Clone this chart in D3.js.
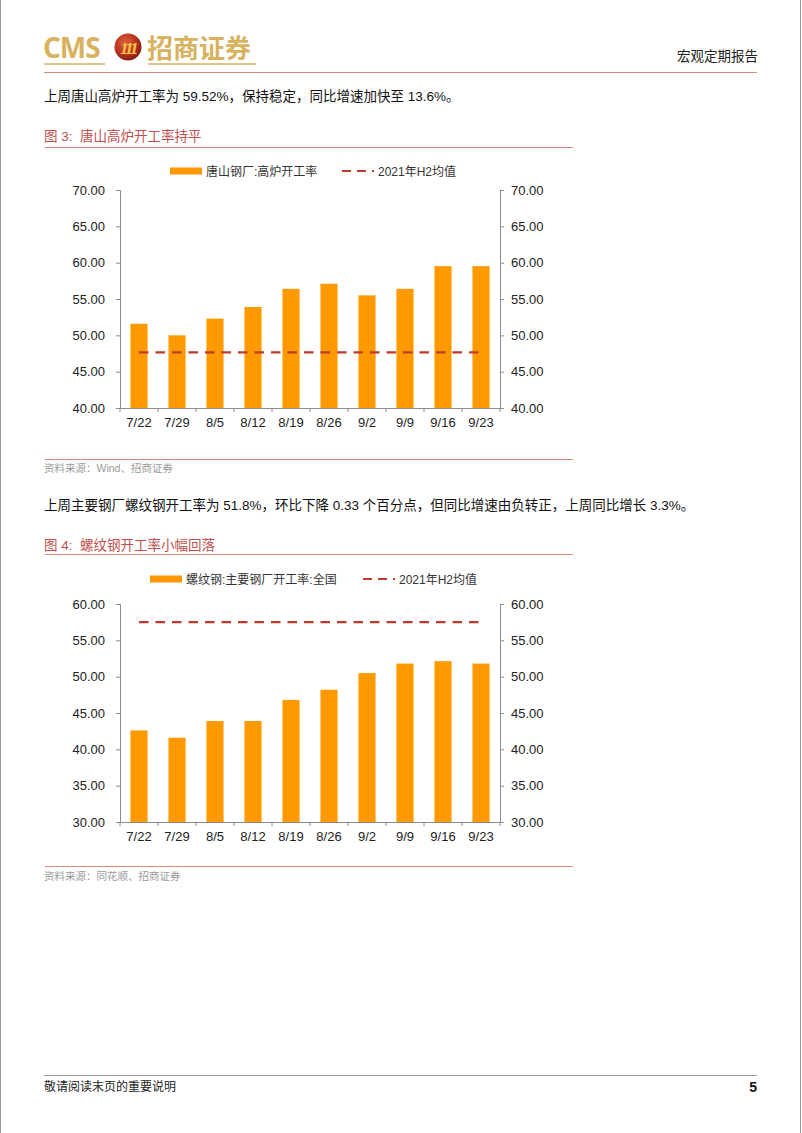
<!DOCTYPE html>
<html>
<head>
<meta charset="utf-8">
<script src="https://cdn.jsdelivr.net/npm/d3@7"></script>
<style>
  html, body { margin: 0; padding: 0; background: #fff; }
  svg { display: block; }
</style>
</head>
<body>
<svg id="page" width="802" height="1133"></svg>
<script>
// ---------- DATA ----------
const categories = ["7/22","7/29","8/5","8/12","8/19","8/26","9/2","9/9","9/16","9/23"];
const tangshanRate = [51.6, 50.0, 52.3, 53.9, 56.4, 57.1, 55.5, 56.4, 59.52, 59.52];
const tangshanAvg2021H2 = 47.65;
const tangshanTicks = [40, 45, 50, 55, 60, 65, 70];
const rebarRate = [42.6, 41.6, 43.9, 43.9, 46.8, 48.2, 50.5, 51.8, 52.13, 51.8];
const rebarAvg2021H2 = 57.5;
const rebarTicks = [30, 35, 40, 45, 50, 55, 60];

// ---------- STYLE ----------
const FONT = "'Liberation Sans', Arial, 'Noto Sans CJK SC', sans-serif";
const CJK = "'Liberation Sans', 'Noto Sans CJK SC', sans-serif";
const ORANGE = "#FF9900";
const DASHRED = "#C0392B";
const TITLE = "#C0504D";
const RULE = "#D98A7A";
const GOLD = "#D8B25E";
const AXIS = "#8C8C8C";

const svg = d3.select("#page");

// page borders
svg.append("line").attr("x1",0.5).attr("x2",0.5).attr("y1",0).attr("y2",1133).attr("stroke","#999").attr("stroke-width",1);
svg.append("line").attr("x1",800.5).attr("x2",800.5).attr("y1",0).attr("y2",1133).attr("stroke","#999").attr("stroke-width",1);

// ---------- HEADER ----------
svg.append("text").attr("x",43).attr("y",58).text("CMS")
  .attr("font-family","'Open Sans', 'Liberation Sans', sans-serif").attr("font-weight","bold")
  .attr("font-size",28).attr("fill",GOLD).attr("letter-spacing",-1);
const defs = svg.append("defs");
const grad = defs.append("radialGradient").attr("id","emb").attr("cx","40%").attr("cy","35%").attr("r","70%");
grad.append("stop").attr("offset","0%").attr("stop-color","#E0603A");
grad.append("stop").attr("offset","60%").attr("stop-color","#B8321E");
grad.append("stop").attr("offset","100%").attr("stop-color","#7A1A10");
svg.append("circle").attr("cx",128).attr("cy",47).attr("r",13.5).attr("fill","url(#emb)");
svg.append("text").attr("x",128).attr("y",53.5).attr("text-anchor","middle").text("111")
  .attr("font-family","'Liberation Serif', serif").attr("font-style","italic").attr("font-weight","bold")
  .attr("font-size",17).attr("fill","#F6C443").attr("letter-spacing",-2.5);
svg.append("text").attr("x",147).attr("y",58).text("招商证券")
  .attr("font-family","'Noto Sans CJK SC', sans-serif").attr("font-weight","bold")
  .attr("font-size",26).attr("fill",GOLD);
svg.append("line").attr("x1",44).attr("x2",105).attr("y1",64).attr("y2",64).attr("stroke",GOLD).attr("stroke-width",1.5);
svg.append("line").attr("x1",148).attr("x2",256).attr("y1",64).attr("y2",64).attr("stroke",GOLD).attr("stroke-width",1.5);

svg.append("text").attr("x",758).attr("y",61).attr("text-anchor","end").text("宏观定期报告")
  .attr("font-family",CJK).attr("font-size",13.5).attr("fill","#222");
svg.append("line").attr("x1",44).attr("x2",757).attr("y1",72.5).attr("y2",72.5).attr("stroke",RULE).attr("stroke-width",1);

// ---------- TEXT BLOCKS ----------
function para(y, txt) {
  svg.append("text").attr("x",44).attr("y",y).text(txt)
    .attr("font-family",CJK).attr("font-size",13.5).attr("fill","#111");
}
function figTitle(y, txt) {
  svg.append("text").attr("x",44).attr("y",y).text(txt)
    .attr("font-family",CJK).attr("font-size",13.5).attr("fill",TITLE).attr("xml:space","preserve");
}
function rule(y) {
  svg.append("line").attr("x1",45).attr("x2",573).attr("y1",y).attr("y2",y).attr("stroke",RULE).attr("stroke-width",1.2);
}
function source(y, txt) {
  svg.append("text").attr("x",44).attr("y",y).text(txt)
    .attr("font-family",CJK).attr("font-size",10.5).attr("fill","#9A9A9A");
}

para(101, "上周唐山高炉开工率为 59.52%，保持稳定，同比增速加快至 13.6%。");
figTitle(141, "图 3:\u00a0\u00a0唐山高炉开工率持平");
rule(147.5);
rule(459.5);
source(472, "资料来源：Wind、招商证券");

para(510, "上周主要钢厂螺纹钢开工率为 51.8%，环比下降 0.33 个百分点，但同比增速由负转正，上周同比增长 3.3%。");
figTitle(550, "图 4:\u00a0\u00a0螺纹钢开工率小幅回落");
rule(554.5);
rule(866.5);
source(880, "资料来源：同花顺、招商证券");

// ---------- CHART ----------
function drawChart(opt) {
  const g = svg.append("g");
  const x = d3.scaleBand().domain(categories).range([120, 500]).padding(0);
  const y = d3.scaleLinear().domain([opt.ticks[0], opt.ticks[opt.ticks.length-1]]).range([opt.bottom, opt.top]);
  const barW = x.bandwidth() * 0.45;

  // bars
  g.selectAll("rect.bar").data(opt.values).enter().append("rect")
    .attr("x", (d,i) => x(categories[i]) + (x.bandwidth()-barW)/2)
    .attr("y", d => y(d))
    .attr("width", barW)
    .attr("height", d => y(opt.ticks[0]) - y(d))
    .attr("fill", ORANGE);

  // dashed average line
  const lineGen = d3.line().x(d => x(d) + x.bandwidth()/2).y(() => y(opt.avg));
  g.append("path").datum(categories).attr("d", lineGen)
    .attr("fill","none").attr("stroke",DASHRED).attr("stroke-width",2.2).attr("stroke-dasharray","9.5,7");

  // axes
  const yl = g.append("g").attr("transform","translate(120,0)")
    .call(d3.axisLeft(y).tickValues(opt.ticks).tickFormat(d3.format(".2f")).tickSizeOuter(0).tickSize(4).tickPadding(11));
  const yr = g.append("g").attr("transform","translate(500,0)")
    .call(d3.axisRight(y).tickValues(opt.ticks).tickFormat(d3.format(".2f")).tickSizeOuter(0).tickSize(4).tickPadding(7));
  const xa = g.append("g").attr("transform",`translate(0,${opt.bottom})`)
    .call(d3.axisBottom(x).tickSize(0).tickPadding(10));
  // band boundary ticks
  const bounds = categories.map(c => x(c)).concat([500]);
  g.selectAll("line.btick").data(bounds).enter().append("line")
    .attr("x1", d => d).attr("x2", d => d).attr("y1", opt.bottom).attr("y2", opt.bottom + 4)
    .attr("stroke", AXIS).attr("stroke-width",1);

  [yl, yr, xa].forEach(a => {
    a.selectAll("path.domain").attr("stroke", AXIS).attr("stroke-width",1);
    a.selectAll(".tick line").attr("stroke", AXIS);
    a.selectAll("text").attr("font-family", FONT).attr("font-size", 13).attr("fill","#222");
  });

  // legend
  const ly = opt.legendY;
  g.append("rect").attr("x",opt.lg1).attr("y",ly-3.5).attr("width",32).attr("height",7).attr("fill",ORANGE);
  g.append("text").attr("x",opt.lg1+36).attr("y",ly+4.5).text(opt.name)
    .attr("font-family",CJK).attr("font-size",12).attr("fill","#333");
  g.append("line").attr("x1",opt.lg2).attr("x2",opt.lg2+32).attr("y1",ly).attr("y2",ly)
    .attr("stroke",DASHRED).attr("stroke-width",2.2).attr("stroke-dasharray","9,6");
  g.append("text").attr("x",opt.lg2+36).attr("y",ly+4.5).text("2021年H2均值")
    .attr("font-family",CJK).attr("font-size",12).attr("fill","#333");
}

drawChart({ values: tangshanRate, avg: tangshanAvg2021H2, ticks: tangshanTicks,
  top: 190, bottom: 408, legendY: 171, lg1: 170, lg2: 342, name: "唐山钢厂:高炉开工率" });
drawChart({ values: rebarRate, avg: rebarAvg2021H2, ticks: rebarTicks,
  top: 604, bottom: 822, legendY: 579, lg1: 150, lg2: 363, name: "螺纹钢:主要钢厂开工率:全国" });

// ---------- FOOTER ----------
svg.append("line").attr("x1",44).attr("x2",757).attr("y1",1075.5).attr("y2",1075.5).attr("stroke","#999").attr("stroke-width",1);
svg.append("text").attr("x",44).attr("y",1091).text("敬请阅读末页的重要说明")
  .attr("font-family",CJK).attr("font-size",12).attr("fill","#222");
svg.append("text").attr("x",757).attr("y",1092).attr("text-anchor","end").text("5")
  .attr("font-family",FONT).attr("font-weight","bold").attr("font-size",14).attr("fill","#111");
</script>
</body>
</html>
